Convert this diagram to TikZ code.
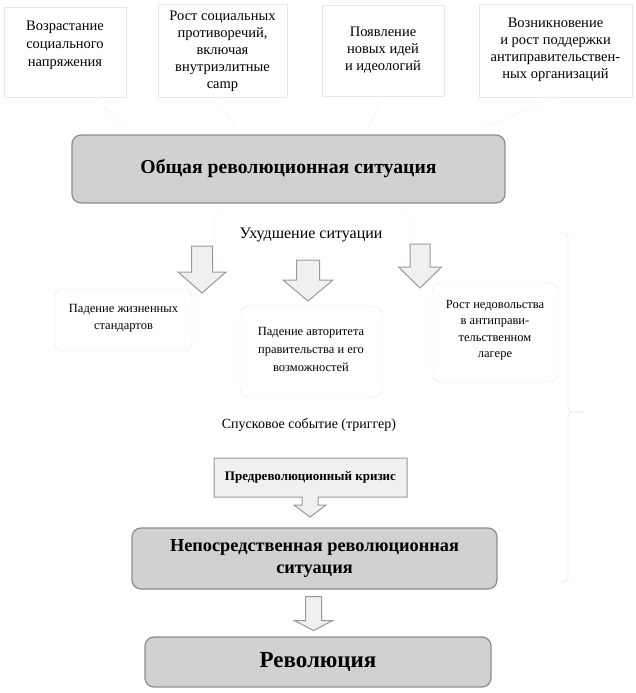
\documentclass[tikz,border=0pt]{standalone}
\usepackage{fontspec}
\setmainfont{Liberation Serif}
\begin{document}
\begin{tikzpicture}[x=1pt,y=-1pt,
  topbox/.style={draw=black!9,fill=white,inner sep=0pt},
  subbox/.style={draw=black!9,fill=white,rounded corners=8pt,inner sep=0pt},
  mainbox/.style={draw=black!45,line width=1.2pt,fill=black!18,rounded corners=9pt,inner sep=0pt},
  toptext/.style={align=center,font=\fontsize{14.5}{17}\selectfont,inner sep=0pt},
  subtext/.style={align=center,font=\fontsize{12.5}{17}\selectfont,inner sep=0pt},
  blockarr/.style={draw=black!40,line width=1pt,fill=black!6,line join=miter},
  faint/.style={draw=black!12,line width=0.5pt,densely dotted},
  brace/.style={draw=black!7,line width=0.8pt}
]
\useasboundingbox (0,0) rectangle (636,693);
\fill[white] (0,0) rectangle (636,693);

% top boxes
\node[topbox,minimum width=122pt,minimum height=90pt] (b1) at (65,52) {};
\node[toptext,font=\fontsize{14.5}{18}\selectfont] (t1) at (65,45) {Возрастание\\социального\\напряжения};
\node[topbox,minimum width=129pt,minimum height=93pt] (b2) at (222.5,50.5) {};
\node[toptext] (t2) at (222.5,51) {Рост социальных\\противоречий,\\включая\\внутриэлитные\\camp};
\node[topbox,minimum width=122pt,minimum height=91pt] (b3) at (383,50.5) {};
\node[toptext] (t3) at (383,50) {Появление\\новых идей\\и идеологий};
\node[topbox,minimum width=153pt,minimum height=93pt] (b4) at (555.5,50.5) {};
\node[toptext] (t4) at (555.5,50) {Возникновение\\и рост поддержки\\антиправительствен-\\ных организаций};

% main box 1
\node[mainbox,minimum width=433pt,minimum height=68pt,
  font=\fontsize{19.7}{22}\selectfont\bfseries] (m1) at (288.5,169) {Общая революционная ситуация};

% faint connectors
\coordinate (c1) at (125,129);
\coordinate (c2) at (237,129);
\coordinate (c3) at (367,130);
\coordinate (c4) at (481,129);
\draw[faint] (b1.south) ++(30,0) -- (c1);
\draw[faint] (b2.south) ++(-7,0) -- (c2);
\draw[faint] (b3.south) -- (c3);
\draw[faint] (b4.south) -- (c4);

% deterioration label box
\node[topbox,draw=black!5,rounded corners=4pt,minimum width=195pt,minimum height=43pt] (ub) at (312.5,236.5) {};
\node[font=\fontsize{16}{18}\selectfont,inner sep=0pt] (ut) at (311,235) {Ухудшение ситуации};

% brace
\coordinate (brt) at (560,233);
\coordinate (brm) at (583,412);
\coordinate (brb) at (560,582);
\draw[brace] (brt) -- (564,233) to[out=0,in=90] (568,237) -- (568,408) to[out=-90,in=180] (572,412) -- (brm);
\draw[brace] (brm) -- (572,412) to[out=180,in=90] (568,416) -- (568,578) to[out=-90,in=0] (564,582) -- (brb);

% sub boxes
\node[subbox,minimum width=137pt,minimum height=62pt] (s1) at (123.5,320) {};
\node[subtext] (st1) at (123.5,318) {Падение жизненных\\стандартов};
\node[subbox,minimum width=142pt,minimum height=91pt] (s2) at (311,351.5) {};
\node[subtext,font=\fontsize{12.5}{18}\selectfont] (st2) at (311,349) {Падение авторитета\\правительства и его\\возможностей};
\node[subbox,minimum width=126pt,minimum height=99pt] (s3) at (495,332.5) {};
\node[subtext,font=\fontsize{12.5}{16.5}\selectfont] (st3) at (495,330) {Рост недовольства\\в антиправи-\\тельственном\\лагере};

% block arrows
\draw[blockarr] (191.5,246) -- (212.5,246) -- (212.5,272) -- (226,272) -- (202,293) -- (178,272) -- (191.5,272) -- cycle;
\draw[blockarr] (296.5,260) -- (319.5,260) -- (319.5,280) -- (333,280) -- (308,301) -- (283,280) -- (296.5,280) -- cycle;
\draw[blockarr] (410,244) -- (430,244) -- (430,267) -- (441.5,267) -- (420,288) -- (398.5,267) -- (410,267) -- cycle;

% trigger
\node[font=\fontsize{14}{16}\selectfont,inner sep=0pt] (tr) at (309,425) {Спусковое событие (триггер)};

% crisis callout
\draw[blockarr] (214,458) -- (407,458) -- (407,497) -- (318,497) -- (318,505) -- (326,505) -- (310,517) -- (294,505) -- (302,505) -- (302,497) -- (214,497) -- cycle;
\node[font=\fontsize{13}{15}\selectfont\bfseries,inner sep=0pt] (cr) at (310.5,477.5) {Предреволюционный кризис};

% main box 2
\node[mainbox,minimum width=365pt,minimum height=61pt,align=center,
  font=\fontsize{18.3}{22}\selectfont\bfseries] (m2) at (314.5,558.5) {Непосредственная революционная\\ситуация};

% arrow to revolution
\draw[blockarr] (m2.south) ++(-9,7) coordinate (a4) -- ++(16,0) -- ++(0,24) -- ++(11,0) -- ++(-19,10) -- ++(-19,-10) -- ++(11,0) -- cycle;

% main box 3
\node[mainbox,minimum width=346pt,minimum height=50pt,
  font=\fontsize{23}{26}\selectfont\bfseries] (m3) at (318,662) {Революция};
\end{tikzpicture}
\end{document}
